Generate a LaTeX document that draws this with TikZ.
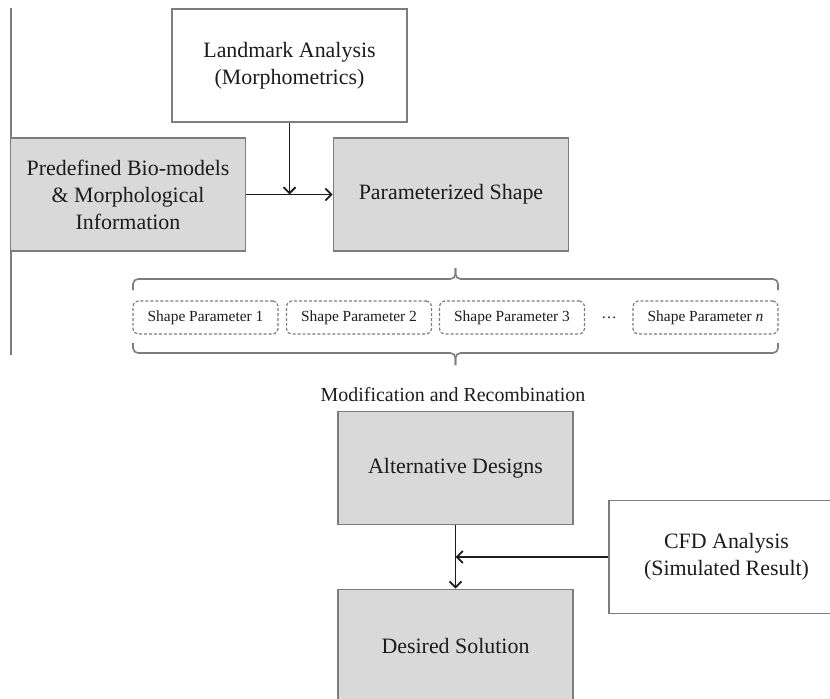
\documentclass[tikz,border=0pt]{standalone}
\usepackage{fontspec}
\setmainfont{Liberation Serif}
\usepackage{xcolor}
\usetikzlibrary{arrows.meta}

\definecolor{boxgray}{RGB}{217,217,217}
\definecolor{edgegray}{RGB}{125,125,125}
\definecolor{inkdark}{RGB}{28,28,28}

\tikzset{
  graybox/.style={draw=edgegray, line width=1.6bp, fill=boxgray, text=inkdark,
    minimum width=235bp, minimum height=113bp, inner sep=0pt, align=center,
    font=\fontsize{22}{27}\selectfont},
  whitebox/.style={graybox, fill=white},
  parambox/.style={draw=edgegray, densely dashed, line width=1.2bp, rounded corners=5bp,
    minimum width=145bp, minimum height=33bp, inner sep=0pt, text=inkdark,
    font=\fontsize{15.5}{17}\selectfont},
  bracket/.style={draw=edgegray, line width=1.6bp, rounded corners=5bp},
  flow/.style={draw=inkdark, line width=1.8bp, -{Straight Barb[length=6bp,width=12bp]}}
}

\begin{document}
\begin{tikzpicture}[x=1bp,y=-1bp]
  \useasboundingbox (0,0) rectangle (830,699);

  \draw[edgegray, line width=2bp] (11,8) -- (11,355);

  \node[whitebox] (landmark) at (289.5,65.5) {Landmark Analysis\\(Morphometrics)};
  \node[graybox] (biomodel) at (128,194.5) {Predefined Bio-models\\\& Morphological\\Information};
  \node[graybox] (paramshape) at (451,194.5) {Parameterized Shape};

  \draw[flow] (biomodel.east) -- (paramshape.west);
  \draw[flow] (landmark.south) -- (landmark.south |- biomodel.east);

  \draw[bracket] (133,290) -- (133,279) -- (455.5,279) -- (455.5,268);
  \draw[bracket] (455.5,268) -- (455.5,279) -- (778,279) -- (778,290);

  \foreach \i/\x in {1/205.5,2/359,3/512}
    \node[parambox] (sp\i) at (\x,317.5) {Shape Parameter \i};
  \node[text=inkdark, font=\fontsize{15.5}{17}\selectfont] (pdots) at (609,318) {\dots};
  \node[parambox] (spn) at (705.5,317.5) {Shape Parameter \textit{n}};

  \draw[bracket] (133,343) -- (133,353) -- (455.5,353) -- (455.5,365);
  \draw[bracket] (455.5,365) -- (455.5,353) -- (778,353) -- (778,343);

  \node[text=inkdark, font=\fontsize{20}{22}\selectfont] (modtext) at (453,395) {Modification and Recombination};

  \node[graybox] (altdesign) at (455.5,468) {Alternative Designs};
  \node[graybox] (solution) at (455.5,646) {Desired Solution};
  \node[whitebox] (cfd) at (726.5,557) {CFD Analysis\\(Simulated Result)};

  \draw[flow] (altdesign.south) -- (solution.north);
  \draw[flow] (cfd.west) -- (cfd.west -| altdesign.south);
\end{tikzpicture}
\end{document}
